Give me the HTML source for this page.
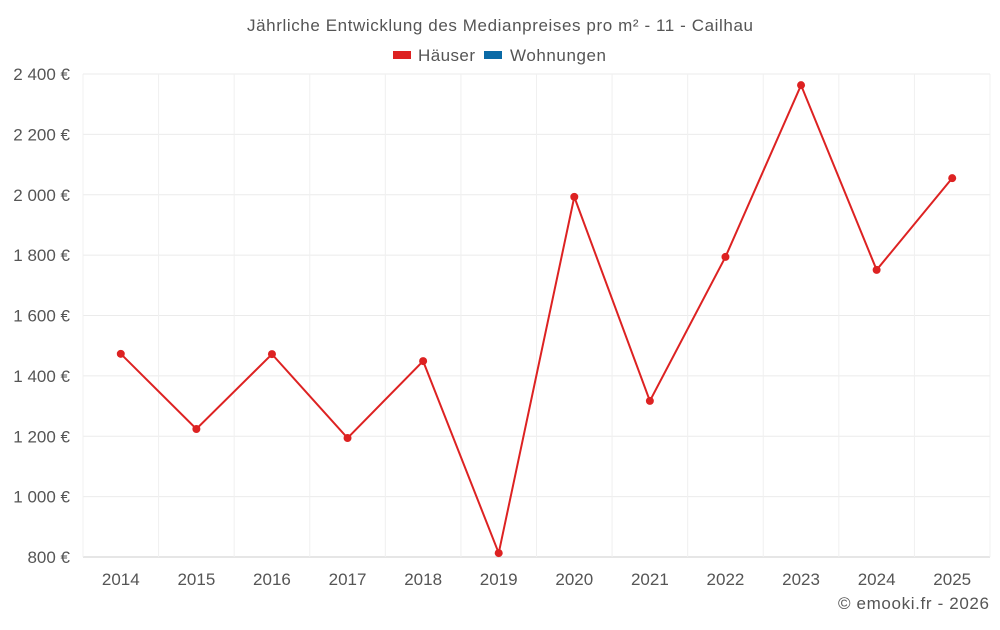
<!DOCTYPE html>
<html><head><meta charset="utf-8"><style>
body{margin:0;background:#fff;font-family:"Liberation Sans",sans-serif}
svg text{font-family:"Liberation Sans",sans-serif}
</style></head><body>
<svg id="c" width="1000" height="625">
<text x="500" y="31" text-anchor="middle" font-size="17" textLength="506" fill="#555">Jährliche Entwicklung des Medianpreises pro m² - 11 - Cailhau</text>
<g>
<g><rect x="393" y="51" width="18" height="8" fill="#dd2222"/><text x="418" y="61" font-size="17" textLength="57" fill="#555">Häuser</text></g>
<g><rect x="484" y="51" width="18" height="8" fill="#0a6aa6"/><text x="510" y="61" font-size="17" textLength="96" fill="#555">Wohnungen</text></g>
</g>
<g id="grid"></g><g id="axes"></g><g id="series"></g>
<text x="989" y="609" text-anchor="end" font-size="17" textLength="151" fill="#555">© emooki.fr - 2026</text>
</svg>
<script>
const years=["2014","2015","2016","2017","2018","2019","2020","2021","2022","2023","2024","2025"];
const haeuser=[1473,1224,1472,1194,1449,813,1993,1317,1794,2363,1751,2055];
const yTicks=[800,1000,1200,1400,1600,1800,2000,2200,2400];
const NS="http://www.w3.org/2000/svg";
const L=83,R=990,T=74,B=557,yMin=800,yMax=2400;
const bw=(R-L)/years.length;
const x=i=>L+bw*(i+0.5);
const y=v=>B-(v-yMin)/(yMax-yMin)*(B-T);
function mk(t,a,p){const e=document.createElementNS(NS,t);for(const k in a)e.setAttribute(k,a[k]);p.appendChild(e);return e;}
const g=document.getElementById('grid'),ax=document.getElementById('axes'),s=document.getElementById('series');
yTicks.forEach(v=>{
 const l=mk('line',{x1:L,x2:R,y1:y(v),y2:y(v),stroke:v===yMin?'#ccc':'#ebebeb'},g);
 
 
 const t=mk('text',{x:70,y:y(v)+6,'text-anchor':'end','font-size':17,fill:'#555'},ax);
 t.textContent=String(v).replace(/\B(?=(\d{3})+(?!\d))/g,' ')+' €';
 
 
});
for(let i=0;i<=years.length;i++){
 const l=mk('line',{x1:L+bw*i,x2:L+bw*i,y1:T,y2:B,stroke:'#f0f0f0'},g);
 
 
}
years.forEach((yr,i)=>{
 const t=mk('text',{x:x(i),y:585,'text-anchor':'middle','font-size':17,fill:'#555'},ax);
 t.textContent=yr;
 
 
});
const p=mk('polyline',{points:haeuser.map((v,i)=>x(i)+','+y(v)).join(' '),fill:'none',stroke:'#dd2222','stroke-width':2},s);


haeuser.forEach((v,i)=>{
 const c=mk('circle',{cx:x(i),cy:y(v),r:4,fill:'#dd2222'},s);
 
 
});
</script>
</body></html>
